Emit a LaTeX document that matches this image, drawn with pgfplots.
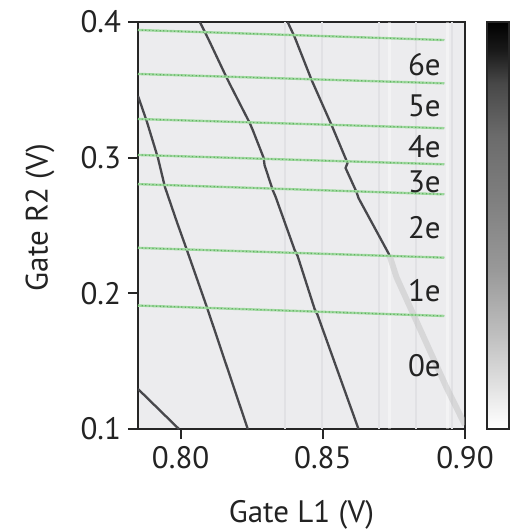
\documentclass[border=0pt]{standalone}
\usepackage{fontspec}
\setmainfont{PT Sans}
\usepackage{pgfplots}
\pgfplotsset{compat=1.18}

\definecolor{bg}{RGB}{236,236,238}
\definecolor{streakdark}{RGB}{225,225,228}
\definecolor{glight}{RGB}{160,218,160}
\definecolor{gdark}{RGB}{100,175,100}
\definecolor{trans}{RGB}{72,72,76}
\definecolor{txt}{RGB}{35,35,35}

\newcommand{\lbl}{\fontsize{15.5}{18}\selectfont}

\begin{document}
\begin{tikzpicture}
\begin{axis}[
  name=main,
  scale only axis, width=163.5pt, height=203.5pt,
  xmin=0.785, xmax=0.90, ymin=0.1, ymax=0.4,
  axis background/.style={fill=bg},
  axis line style={line width=0.9pt, black!85},
  tick style={line width=0.9pt, black!85},
  tick align=outside, major tick length=5pt,
  xtick pos=bottom, ytick pos=left,
  xtick={0.80,0.85,0.90}, xticklabels={0.80,0.85,0.90},
  ytick={0.1,0.2,0.3,0.4}, yticklabels={0.1,0.2,0.3,0.4},
  tick label style={font=\lbl, text=txt},
  label style={font=\lbl, text=txt, inner sep=0pt},
  xlabel={Gate L1 (V)}, ylabel={Gate R2 (V)},
  xlabel style={at={(axis description cs:0.5,-0.211)}, anchor=center},
  ylabel style={at={(axis description cs:-0.30,0.52)}, anchor=center},
  colormap={stab}{gray(0cm)=(1); gray(0.3cm)=(0.97); gray(1.1cm)=(0.88);
    gray(2.3cm)=(0.75); gray(3.9cm)=(0.6); gray(5.6cm)=(0.5);
    gray(7.2cm)=(0.42); gray(8.5cm)=(0.28); gray(9.3cm)=(0.1); gray(10cm)=(0)},
  point meta min=0, point meta max=1,
  colorbar,
  colorbar style={
    at={(parent axis.north east)}, anchor=north west, xshift=2.5pt,
    width=11pt,
    ytick=\empty, xtick=\empty,
    axis line style={line width=0.9pt, black!85},
  },
]

% faint vertical streaks of the measurement background
\addplot[streakdark, line width=1pt] coordinates {(0.8496,0.1) (0.8496,0.4)};
\addplot[streakdark, line width=1pt] coordinates {(0.8699,0.1) (0.8699,0.4)};
\addplot[white, line width=1.5pt, opacity=0.4] coordinates {(0.8734,0.1) (0.8734,0.4)};
\addplot[streakdark, line width=1pt] coordinates {(0.8829,0.1) (0.8829,0.4)};
\addplot[white, line width=1.5pt, opacity=0.4] coordinates {(0.8938,0.1) (0.8938,0.4)};
\addplot[streakdark, line width=1pt] coordinates {(0.8955,0.1) (0.8955,0.4)};
\addplot[streakdark, line width=0.8pt] coordinates {(0.8366,0.1) (0.8366,0.4)};

% charge transition lines of dot L
\addplot[trans, line width=1.15pt] coordinates {
  (0.7850,0.3455) (0.78816,0.3263) (0.79202,0.29976) (0.79447,0.27838)
  (0.79868,0.25258) (0.80219,0.23195) (0.80921,0.18993) (0.82360,0.1000)};
\addplot[trans, line width=1.15pt] coordinates {
  (0.80675,0.4) (0.80886,0.39116) (0.80991,0.38673) (0.81623,0.35872)
  (0.81728,0.35430) (0.82430,0.32555) (0.82535,0.32040) (0.82921,0.29976)
  (0.82950,0.29460) (0.83237,0.27617) (0.83342,0.27101) (0.84009,0.23195)
  (0.84114,0.22752) (0.84711,0.18846) (0.84816,0.18403) (0.86254,0.1)};
\addplot[trans, line width=1.15pt] coordinates {
  (0.83763,0.4) (0.84009,0.38894) (0.84605,0.35725) (0.85307,0.32408)
  (0.85868,0.29607) (0.85800,0.29239) (0.86184,0.27470) (0.86254,0.27027)
  (0.87342,0.22826)};
\addplot[black!25, line width=3pt, opacity=0.45] coordinates {
  (0.87342,0.22826) (0.87588,0.21204) (0.89342,0.13097) (0.9,0.103)};
\addplot[trans, line width=1.15pt] coordinates {(0.785,0.12949) (0.79939,0.1)};

% charge transition lines of dot R
\pgfplotsset{greenbase/.style={glight, line width=1.2pt},
             greendots/.style={gdark, line width=0.6pt, dash pattern=on 0.6pt off 1.2pt}}
\addplot[greenbase] coordinates {(0.785,0.3941) (0.8927,0.3867)};
\addplot[greendots] coordinates {(0.785,0.3941) (0.8927,0.3867)};
\addplot[greenbase] coordinates {(0.785,0.3617) (0.8927,0.3548)};
\addplot[greendots] coordinates {(0.785,0.3617) (0.8927,0.3548)};
\addplot[greenbase] coordinates {(0.785,0.3285) (0.8927,0.3217)};
\addplot[greendots] coordinates {(0.785,0.3285) (0.8927,0.3217)};
\addplot[greenbase] coordinates {(0.785,0.3020) (0.8927,0.2951)};
\addplot[greendots] coordinates {(0.785,0.3020) (0.8927,0.2951)};
\addplot[greenbase] coordinates {(0.785,0.2805) (0.8927,0.2730)};
\addplot[greendots] coordinates {(0.785,0.2805) (0.8927,0.2730)};
\addplot[greenbase] coordinates {(0.785,0.2335) (0.8927,0.2263)};
\addplot[greendots] coordinates {(0.785,0.2335) (0.8927,0.2263)};
\addplot[greenbase] coordinates {(0.785,0.1910) (0.8927,0.1833)};
\addplot[greendots] coordinates {(0.785,0.1910) (0.8927,0.1833)};

% electron occupation of dot R
\node[font=\lbl, text=txt] at (axis cs:0.8857,0.3683) {6e};
\node[font=\lbl, text=txt] at (axis cs:0.8857,0.3381) {5e};
\node[font=\lbl, text=txt] at (axis cs:0.8857,0.3079) {4e};
\node[font=\lbl, text=txt] at (axis cs:0.8857,0.2821) {3e};
\node[font=\lbl, text=txt] at (axis cs:0.8857,0.2482) {2e};
\node[font=\lbl, text=txt] at (axis cs:0.8857,0.2017) {1e};
\node[font=\lbl, text=txt] at (axis cs:0.8857,0.1465) {0e};
\end{axis}
\path (main.south west) ++(-69pt,-51pt);
\path (main.north east) ++(28pt,11pt);
\end{tikzpicture}
\end{document}
